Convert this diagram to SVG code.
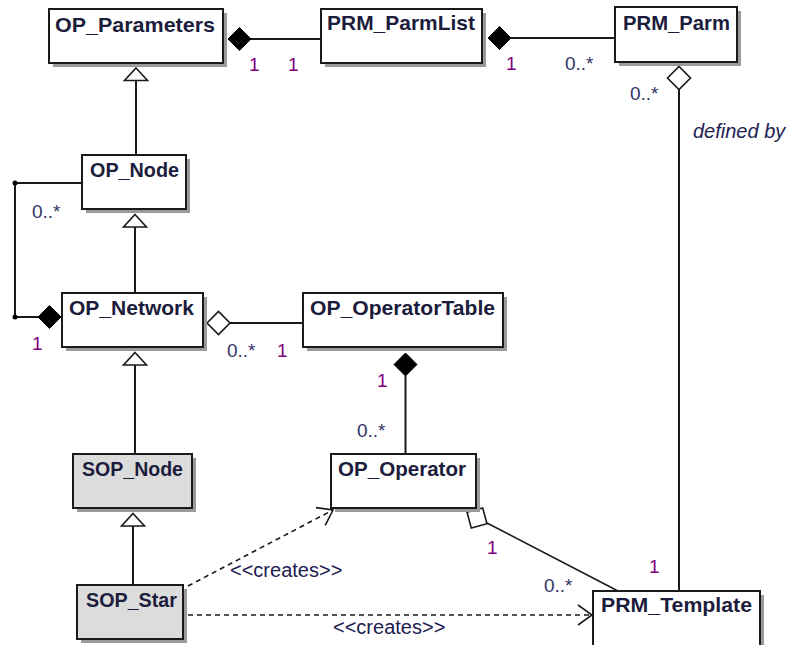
<svg xmlns="http://www.w3.org/2000/svg" xmlns:xlink="http://www.w3.org/1999/xlink" width="791" height="645" viewBox="0 0 791 645">
<style>
.box{fill:#ffffff;stroke:#1a1a1a;stroke-width:2}
.gray{fill:#dcdcdc}
.shadow{fill:#9a9a9a;stroke:none}
.name{font-family:"Liberation Sans",Arial,sans-serif;font-size:20.5px;font-weight:bold;fill:#1c1c3c}
.line{fill:none;stroke:#1a1a1a;stroke-width:2}
.dash{fill:none;stroke:#1a1a1a;stroke-width:1.6;stroke-dasharray:5 4}
.filled{fill:#000000;stroke:#000000;stroke-width:1}
.hollow{fill:#ffffff;stroke:#1a1a1a;stroke-width:1.6}
.tri{fill:#ffffff;stroke:#1a1a1a;stroke-width:1.6}
.m1{font-family:"Liberation Sans",Arial,sans-serif;font-size:19px;fill:#800080}
.m0{font-family:"Liberation Sans",Arial,sans-serif;font-size:19px;fill:#333366}
.lbl{font-family:"Liberation Sans",Arial,sans-serif;font-size:20px;fill:#202050}
.it{font-style:italic}
</style>
<defs>
<path id="dmd" d="M-11.5,0 L0,-11.5 L11.5,0 L0,11.5 Z"/>
<path id="tri" d="M0,0 L11.5,12.5 L-11.5,12.5 Z"/>
<marker id="open" viewBox="0 0 16 22" refX="15" refY="11" markerWidth="16" markerHeight="22" orient="auto" markerUnits="userSpaceOnUse">
<path d="M1,1 L15,11 L1,21" fill="none" stroke="#1a1a1a" stroke-width="1.6"/>
</marker>
</defs>

<g id="connectors">
<line class="line" x1="251" y1="39" x2="321" y2="39"/>
<use href="#dmd" class="filled" x="239.5" y="39"/>
<line class="line" x1="511" y1="38" x2="615" y2="38"/>
<use href="#dmd" class="filled" x="499.5" y="38"/>
<line class="line" x1="679" y1="89" x2="679" y2="591"/>
<use href="#dmd" class="hollow" x="679" y="78"/>
<polyline class="line" points="82,183 15,183 15,317 38,317"/>
<circle cx="15" cy="183" r="2.5" fill="#000"/>
<circle cx="15" cy="317" r="2.5" fill="#000"/>
<use href="#dmd" class="filled" x="49.5" y="317"/>
<line class="line" x1="230" y1="323" x2="303" y2="323"/>
<use href="#dmd" class="hollow" x="218.5" y="323"/>
<line class="line" x1="405.5" y1="376" x2="405.5" y2="454"/>
<use href="#dmd" class="filled" x="405.5" y="364.5"/>
<line class="line" x1="487" y1="523" x2="618" y2="591" style="stroke-width:1.6"/>
<use href="#dmd" class="hollow" transform="translate(477,518) rotate(29.7)"/>
<line class="line" x1="136" y1="81" x2="136" y2="155"/>
<use href="#tri" class="tri" x="136" y="68"/>
<line class="line" x1="135" y1="227" x2="135" y2="293"/>
<use href="#tri" class="tri" x="135" y="214.5"/>
<line class="line" x1="135" y1="365" x2="135" y2="454"/>
<use href="#tri" class="tri" x="135" y="352.5"/>
<line class="line" x1="133" y1="526" x2="133" y2="585"/>
<use href="#tri" class="tri" x="133" y="513.5"/>
<line class="dash" x1="188" y1="586" x2="333" y2="510" marker-end="url(#open)"/>
<line class="dash" x1="188" y1="615" x2="592" y2="615" marker-end="url(#open)"/>
</g>

<g id="labels">
<text class="m1" x="249" y="71">1</text>
<text class="m1" x="288" y="71">1</text>
<text class="m1" x="506" y="70">1</text>
<text class="m0" x="565" y="70">0..*</text>
<text class="m0" x="630" y="100">0..*</text>
<text class="lbl it" x="693" y="138">defined by</text>
<text class="m0" x="32" y="218">0..*</text>
<text class="m1" x="32" y="350">1</text>
<text class="m0" x="227" y="357">0..*</text>
<text class="m1" x="277" y="357">1</text>
<text class="m1" x="377" y="387">1</text>
<text class="m0" x="357" y="437">0..*</text>
<text class="m1" x="487" y="554">1</text>
<text class="m0" x="544" y="592">0..*</text>
<text class="m1" x="649" y="573">1</text>
<text class="lbl" x="230" y="577">&lt;&lt;creates&gt;&gt;</text>
<text class="lbl" x="333" y="634">&lt;&lt;creates&gt;&gt;</text>
</g>

<g id="OP_Parameters">
<rect class="shadow" x="53" y="13" width="174" height="54"/>
<rect class="box" x="49" y="9" width="174" height="54"/>
<text class="name" x="55" y="32" textLength="160" lengthAdjust="spacingAndGlyphs">OP_Parameters</text>
</g>
<g id="PRM_ParmList">
<rect class="shadow" x="325" y="13" width="161" height="54"/>
<rect class="box" x="321" y="9" width="161" height="54"/>
<text class="name" x="327" y="30" textLength="148" lengthAdjust="spacingAndGlyphs">PRM_ParmList</text>
</g>
<g id="PRM_Parm">
<rect class="shadow" x="619" y="11" width="122" height="55"/>
<rect class="box" x="615" y="7" width="122" height="55"/>
<text class="name" x="623" y="29.5" textLength="107" lengthAdjust="spacingAndGlyphs">PRM_Parm</text>
</g>
<g id="OP_Node">
<rect class="shadow" x="86" y="159" width="104" height="54"/>
<rect class="box" x="82" y="155" width="104" height="54"/>
<text class="name" x="90" y="177" textLength="89" lengthAdjust="spacingAndGlyphs">OP_Node</text>
</g>
<g id="OP_Network">
<rect class="shadow" x="66" y="297" width="141" height="54"/>
<rect class="box" x="62" y="293" width="141" height="54"/>
<text class="name" x="69" y="315" textLength="125" lengthAdjust="spacingAndGlyphs">OP_Network</text>
</g>
<g id="OP_OperatorTable">
<rect class="shadow" x="307" y="297" width="200" height="54"/>
<rect class="box" x="303" y="293" width="200" height="54"/>
<text class="name" x="310" y="315" textLength="185" lengthAdjust="spacingAndGlyphs">OP_OperatorTable</text>
</g>
<g id="OP_Operator">
<rect class="shadow" x="335" y="458" width="145" height="54"/>
<rect class="box" x="331" y="454" width="145" height="54"/>
<text class="name" x="338" y="476" textLength="128" lengthAdjust="spacingAndGlyphs">OP_Operator</text>
</g>
<g id="SOP_Node">
<rect class="shadow" x="77" y="458" width="119" height="54"/>
<rect class="box gray" x="73" y="454" width="119" height="54"/>
<text class="name" x="82" y="476" textLength="101" lengthAdjust="spacingAndGlyphs">SOP_Node</text>
</g>
<g id="SOP_Star">
<rect class="shadow" x="81" y="589" width="106" height="54"/>
<rect class="box gray" x="77" y="585" width="106" height="54"/>
<text class="name" x="86" y="607" textLength="91" lengthAdjust="spacingAndGlyphs">SOP_Star</text>
</g>
<g id="PRM_Template">
<rect class="shadow" x="597" y="595" width="167" height="60"/>
<rect class="box" x="593" y="591" width="167" height="60"/>
<text class="name" x="601" y="612" textLength="151" lengthAdjust="spacingAndGlyphs">PRM_Template</text>
</g>
</svg>
